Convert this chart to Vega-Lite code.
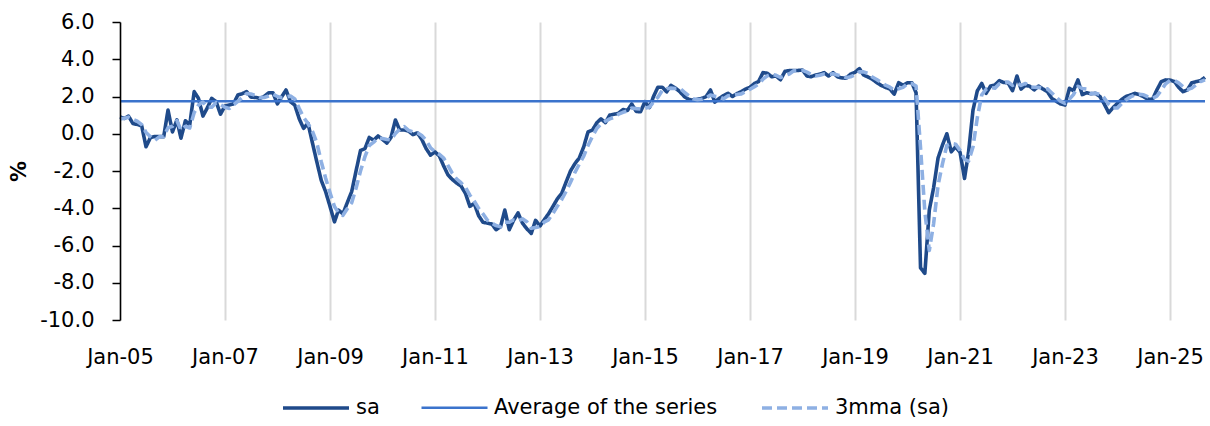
{
"$schema":"https://vega.github.io/schema/vega-lite/v6.json",
"width":1085,"height":298,
"autosize":{"type":"none"},
"padding":{"left":120,"top":22,"right":5,"bottom":106},
"background":"white",
"config":{"view":{"stroke":null},"font":"DejaVu Sans"},
"data":{"values":[
{"d":"2005-01","sa":0.9,"mma":0.8,"avg":1.75},
{"d":"2005-02","sa":0.82,"mma":0.83,"avg":1.75},
{"d":"2005-03","sa":0.95,"mma":0.89,"avg":1.75},
{"d":"2005-04","sa":0.55,"mma":0.77,"avg":1.75},
{"d":"2005-05","sa":0.5,"mma":0.67,"avg":1.75},
{"d":"2005-06","sa":0.42,"mma":0.49,"avg":1.75},
{"d":"2005-07","sa":-0.7,"mma":0.07,"avg":1.75},
{"d":"2005-08","sa":-0.2,"mma":-0.16,"avg":1.75},
{"d":"2005-09","sa":-0.15,"mma":-0.35,"avg":1.75},
{"d":"2005-10","sa":-0.15,"mma":-0.17,"avg":1.75},
{"d":"2005-11","sa":-0.16,"mma":-0.15,"avg":1.75},
{"d":"2005-12","sa":1.27,"mma":0.32,"avg":1.75},
{"d":"2006-01","sa":0.1,"mma":0.4,"avg":1.75},
{"d":"2006-02","sa":0.74,"mma":0.7,"avg":1.75},
{"d":"2006-03","sa":-0.24,"mma":0.2,"avg":1.75},
{"d":"2006-04","sa":0.7,"mma":0.4,"avg":1.75},
{"d":"2006-05","sa":0.47,"mma":0.31,"avg":1.75},
{"d":"2006-06","sa":2.26,"mma":1.14,"avg":1.75},
{"d":"2006-07","sa":1.9,"mma":1.54,"avg":1.75},
{"d":"2006-08","sa":0.95,"mma":1.7,"avg":1.75},
{"d":"2006-09","sa":1.4,"mma":1.42,"avg":1.75},
{"d":"2006-10","sa":1.9,"mma":1.42,"avg":1.75},
{"d":"2006-11","sa":1.72,"mma":1.67,"avg":1.75},
{"d":"2006-12","sa":1.05,"mma":1.56,"avg":1.75},
{"d":"2007-01","sa":1.49,"mma":1.42,"avg":1.75},
{"d":"2007-02","sa":1.55,"mma":1.36,"avg":1.75},
{"d":"2007-03","sa":1.6,"mma":1.55,"avg":1.75},
{"d":"2007-04","sa":2.08,"mma":1.74,"avg":1.75},
{"d":"2007-05","sa":2.15,"mma":1.94,"avg":1.75},
{"d":"2007-06","sa":2.26,"mma":2.16,"avg":1.75},
{"d":"2007-07","sa":1.97,"mma":2.13,"avg":1.75},
{"d":"2007-08","sa":1.95,"mma":2.06,"avg":1.75},
{"d":"2007-09","sa":1.9,"mma":1.94,"avg":1.75},
{"d":"2007-10","sa":2.0,"mma":1.95,"avg":1.75},
{"d":"2007-11","sa":2.2,"mma":2.03,"avg":1.75},
{"d":"2007-12","sa":2.2,"mma":2.13,"avg":1.75},
{"d":"2008-01","sa":1.6,"mma":2.0,"avg":1.75},
{"d":"2008-02","sa":2.0,"mma":1.93,"avg":1.75},
{"d":"2008-03","sa":2.35,"mma":1.98,"avg":1.75},
{"d":"2008-04","sa":1.72,"mma":2.02,"avg":1.75},
{"d":"2008-05","sa":1.54,"mma":1.87,"avg":1.75},
{"d":"2008-06","sa":0.8,"mma":1.35,"avg":1.75},
{"d":"2008-07","sa":0.29,"mma":0.88,"avg":1.75},
{"d":"2008-08","sa":0.56,"mma":0.55,"avg":1.75},
{"d":"2008-09","sa":-0.5,"mma":0.12,"avg":1.75},
{"d":"2008-10","sa":-1.5,"mma":-0.48,"avg":1.75},
{"d":"2008-11","sa":-2.5,"mma":-1.5,"avg":1.75},
{"d":"2008-12","sa":-3.1,"mma":-2.37,"avg":1.75},
{"d":"2009-01","sa":-3.9,"mma":-3.17,"avg":1.75},
{"d":"2009-02","sa":-4.73,"mma":-3.91,"avg":1.75},
{"d":"2009-03","sa":-4.1,"mma":-4.24,"avg":1.75},
{"d":"2009-04","sa":-4.3,"mma":-4.38,"avg":1.75},
{"d":"2009-05","sa":-3.7,"mma":-4.03,"avg":1.75},
{"d":"2009-06","sa":-3.1,"mma":-3.7,"avg":1.75},
{"d":"2009-07","sa":-2.0,"mma":-2.93,"avg":1.75},
{"d":"2009-08","sa":-0.9,"mma":-2.0,"avg":1.75},
{"d":"2009-09","sa":-0.8,"mma":-1.23,"avg":1.75},
{"d":"2009-10","sa":-0.2,"mma":-0.63,"avg":1.75},
{"d":"2009-11","sa":-0.35,"mma":-0.45,"avg":1.75},
{"d":"2009-12","sa":-0.12,"mma":-0.22,"avg":1.75},
{"d":"2010-01","sa":-0.3,"mma":-0.26,"avg":1.75},
{"d":"2010-02","sa":-0.5,"mma":-0.31,"avg":1.75},
{"d":"2010-03","sa":-0.2,"mma":-0.33,"avg":1.75},
{"d":"2010-04","sa":0.74,"mma":0.01,"avg":1.75},
{"d":"2010-05","sa":0.2,"mma":0.25,"avg":1.75},
{"d":"2010-06","sa":0.2,"mma":0.38,"avg":1.75},
{"d":"2010-07","sa":0.15,"mma":0.18,"avg":1.75},
{"d":"2010-08","sa":-0.05,"mma":0.1,"avg":1.75},
{"d":"2010-09","sa":0.05,"mma":0.05,"avg":1.75},
{"d":"2010-10","sa":-0.3,"mma":-0.1,"avg":1.75},
{"d":"2010-11","sa":-0.8,"mma":-0.35,"avg":1.75},
{"d":"2010-12","sa":-1.15,"mma":-0.75,"avg":1.75},
{"d":"2011-01","sa":-0.97,"mma":-0.97,"avg":1.75},
{"d":"2011-02","sa":-1.2,"mma":-1.11,"avg":1.75},
{"d":"2011-03","sa":-1.7,"mma":-1.29,"avg":1.75},
{"d":"2011-04","sa":-2.2,"mma":-1.7,"avg":1.75},
{"d":"2011-05","sa":-2.45,"mma":-2.12,"avg":1.75},
{"d":"2011-06","sa":-2.65,"mma":-2.43,"avg":1.75},
{"d":"2011-07","sa":-2.8,"mma":-2.63,"avg":1.75},
{"d":"2011-08","sa":-3.2,"mma":-2.88,"avg":1.75},
{"d":"2011-09","sa":-3.9,"mma":-3.3,"avg":1.75},
{"d":"2011-10","sa":-3.74,"mma":-3.61,"avg":1.75},
{"d":"2011-11","sa":-4.4,"mma":-4.01,"avg":1.75},
{"d":"2011-12","sa":-4.75,"mma":-4.3,"avg":1.75},
{"d":"2012-01","sa":-4.8,"mma":-4.65,"avg":1.75},
{"d":"2012-02","sa":-4.85,"mma":-4.8,"avg":1.75},
{"d":"2012-03","sa":-5.15,"mma":-4.93,"avg":1.75},
{"d":"2012-04","sa":-5.0,"mma":-5.0,"avg":1.75},
{"d":"2012-05","sa":-4.1,"mma":-4.75,"avg":1.75},
{"d":"2012-06","sa":-5.15,"mma":-4.75,"avg":1.75},
{"d":"2012-07","sa":-4.65,"mma":-4.63,"avg":1.75},
{"d":"2012-08","sa":-4.25,"mma":-4.68,"avg":1.75},
{"d":"2012-09","sa":-4.8,"mma":-4.57,"avg":1.75},
{"d":"2012-10","sa":-5.1,"mma":-4.72,"avg":1.75},
{"d":"2012-11","sa":-5.35,"mma":-5.08,"avg":1.75},
{"d":"2012-12","sa":-4.65,"mma":-5.03,"avg":1.75},
{"d":"2013-01","sa":-4.95,"mma":-4.98,"avg":1.75},
{"d":"2013-02","sa":-4.6,"mma":-4.73,"avg":1.75},
{"d":"2013-03","sa":-4.3,"mma":-4.62,"avg":1.75},
{"d":"2013-04","sa":-3.9,"mma":-4.27,"avg":1.75},
{"d":"2013-05","sa":-3.5,"mma":-3.9,"avg":1.75},
{"d":"2013-06","sa":-3.2,"mma":-3.53,"avg":1.75},
{"d":"2013-07","sa":-2.6,"mma":-3.1,"avg":1.75},
{"d":"2013-08","sa":-2.0,"mma":-2.6,"avg":1.75},
{"d":"2013-09","sa":-1.6,"mma":-2.07,"avg":1.75},
{"d":"2013-10","sa":-1.3,"mma":-1.63,"avg":1.75},
{"d":"2013-11","sa":-0.7,"mma":-1.2,"avg":1.75},
{"d":"2013-12","sa":0.1,"mma":-0.63,"avg":1.75},
{"d":"2014-01","sa":0.2,"mma":-0.13,"avg":1.75},
{"d":"2014-02","sa":0.6,"mma":0.3,"avg":1.75},
{"d":"2014-03","sa":0.8,"mma":0.53,"avg":1.75},
{"d":"2014-04","sa":0.6,"mma":0.67,"avg":1.75},
{"d":"2014-05","sa":1.0,"mma":0.8,"avg":1.75},
{"d":"2014-06","sa":1.05,"mma":0.88,"avg":1.75},
{"d":"2014-07","sa":1.1,"mma":1.05,"avg":1.75},
{"d":"2014-08","sa":1.3,"mma":1.15,"avg":1.75},
{"d":"2014-09","sa":1.25,"mma":1.22,"avg":1.75},
{"d":"2014-10","sa":1.6,"mma":1.38,"avg":1.75},
{"d":"2014-11","sa":1.2,"mma":1.35,"avg":1.75},
{"d":"2014-12","sa":1.18,"mma":1.33,"avg":1.75},
{"d":"2015-01","sa":1.72,"mma":1.37,"avg":1.75},
{"d":"2015-02","sa":1.4,"mma":1.43,"avg":1.75},
{"d":"2015-03","sa":1.99,"mma":1.7,"avg":1.75},
{"d":"2015-04","sa":2.5,"mma":1.96,"avg":1.75},
{"d":"2015-05","sa":2.5,"mma":2.33,"avg":1.75},
{"d":"2015-06","sa":2.25,"mma":2.42,"avg":1.75},
{"d":"2015-07","sa":2.6,"mma":2.45,"avg":1.75},
{"d":"2015-08","sa":2.45,"mma":2.43,"avg":1.75},
{"d":"2015-09","sa":2.26,"mma":2.44,"avg":1.75},
{"d":"2015-10","sa":2.0,"mma":2.24,"avg":1.75},
{"d":"2015-11","sa":1.85,"mma":2.04,"avg":1.75},
{"d":"2015-12","sa":1.8,"mma":1.88,"avg":1.75},
{"d":"2016-01","sa":1.85,"mma":1.83,"avg":1.75},
{"d":"2016-02","sa":1.9,"mma":1.85,"avg":1.75},
{"d":"2016-03","sa":1.99,"mma":1.91,"avg":1.75},
{"d":"2016-04","sa":2.35,"mma":2.08,"avg":1.75},
{"d":"2016-05","sa":1.7,"mma":2.01,"avg":1.75},
{"d":"2016-06","sa":1.9,"mma":1.98,"avg":1.75},
{"d":"2016-07","sa":2.05,"mma":1.88,"avg":1.75},
{"d":"2016-08","sa":2.17,"mma":2.04,"avg":1.75},
{"d":"2016-09","sa":2.0,"mma":2.07,"avg":1.75},
{"d":"2016-10","sa":2.15,"mma":2.11,"avg":1.75},
{"d":"2016-11","sa":2.26,"mma":2.14,"avg":1.75},
{"d":"2016-12","sa":2.4,"mma":2.27,"avg":1.75},
{"d":"2017-01","sa":2.5,"mma":2.39,"avg":1.75},
{"d":"2017-02","sa":2.7,"mma":2.53,"avg":1.75},
{"d":"2017-03","sa":2.8,"mma":2.67,"avg":1.75},
{"d":"2017-04","sa":3.28,"mma":2.93,"avg":1.75},
{"d":"2017-05","sa":3.25,"mma":3.11,"avg":1.75},
{"d":"2017-06","sa":3.06,"mma":3.2,"avg":1.75},
{"d":"2017-07","sa":3.1,"mma":3.14,"avg":1.75},
{"d":"2017-08","sa":2.9,"mma":3.02,"avg":1.75},
{"d":"2017-09","sa":3.35,"mma":3.12,"avg":1.75},
{"d":"2017-10","sa":3.39,"mma":3.21,"avg":1.75},
{"d":"2017-11","sa":3.39,"mma":3.38,"avg":1.75},
{"d":"2017-12","sa":3.4,"mma":3.39,"avg":1.75},
{"d":"2018-01","sa":3.42,"mma":3.4,"avg":1.75},
{"d":"2018-02","sa":3.1,"mma":3.31,"avg":1.75},
{"d":"2018-03","sa":3.06,"mma":3.19,"avg":1.75},
{"d":"2018-04","sa":3.15,"mma":3.1,"avg":1.75},
{"d":"2018-05","sa":3.2,"mma":3.14,"avg":1.75},
{"d":"2018-06","sa":3.28,"mma":3.21,"avg":1.75},
{"d":"2018-07","sa":3.1,"mma":3.19,"avg":1.75},
{"d":"2018-08","sa":3.28,"mma":3.22,"avg":1.75},
{"d":"2018-09","sa":3.06,"mma":3.15,"avg":1.75},
{"d":"2018-10","sa":3.0,"mma":3.11,"avg":1.75},
{"d":"2018-11","sa":2.98,"mma":3.01,"avg":1.75},
{"d":"2018-12","sa":3.2,"mma":3.06,"avg":1.75},
{"d":"2019-01","sa":3.3,"mma":3.16,"avg":1.75},
{"d":"2019-02","sa":3.5,"mma":3.33,"avg":1.75},
{"d":"2019-03","sa":3.16,"mma":3.32,"avg":1.75},
{"d":"2019-04","sa":3.05,"mma":3.24,"avg":1.75},
{"d":"2019-05","sa":2.93,"mma":3.05,"avg":1.75},
{"d":"2019-06","sa":2.75,"mma":2.91,"avg":1.75},
{"d":"2019-07","sa":2.6,"mma":2.76,"avg":1.75},
{"d":"2019-08","sa":2.49,"mma":2.61,"avg":1.75},
{"d":"2019-09","sa":2.4,"mma":2.5,"avg":1.75},
{"d":"2019-10","sa":2.13,"mma":2.34,"avg":1.75},
{"d":"2019-11","sa":2.74,"mma":2.42,"avg":1.75},
{"d":"2019-12","sa":2.6,"mma":2.49,"avg":1.75},
{"d":"2020-01","sa":2.74,"mma":2.69,"avg":1.75},
{"d":"2020-02","sa":2.74,"mma":2.69,"avg":1.75},
{"d":"2020-03","sa":2.2,"mma":2.56,"avg":1.75},
{"d":"2020-04","sa":-7.2,"mma":-0.75,"avg":1.75},
{"d":"2020-05","sa":-7.5,"mma":-4.17,"avg":1.75},
{"d":"2020-06","sa":-4.1,"mma":-6.27,"avg":1.75},
{"d":"2020-07","sa":-2.9,"mma":-4.83,"avg":1.75},
{"d":"2020-08","sa":-1.3,"mma":-2.77,"avg":1.75},
{"d":"2020-09","sa":-0.6,"mma":-1.6,"avg":1.75},
{"d":"2020-10","sa":0.0,"mma":-0.63,"avg":1.75},
{"d":"2020-11","sa":-0.97,"mma":-0.52,"avg":1.75},
{"d":"2020-12","sa":-0.7,"mma":-0.56,"avg":1.75},
{"d":"2021-01","sa":-1.0,"mma":-0.89,"avg":1.75},
{"d":"2021-02","sa":-2.4,"mma":-1.37,"avg":1.75},
{"d":"2021-03","sa":-1.0,"mma":-1.47,"avg":1.75},
{"d":"2021-04","sa":1.27,"mma":-0.71,"avg":1.75},
{"d":"2021-05","sa":2.3,"mma":0.86,"avg":1.75},
{"d":"2021-06","sa":2.7,"mma":2.09,"avg":1.75},
{"d":"2021-07","sa":2.17,"mma":2.39,"avg":1.75},
{"d":"2021-08","sa":2.56,"mma":2.48,"avg":1.75},
{"d":"2021-09","sa":2.62,"mma":2.45,"avg":1.75},
{"d":"2021-10","sa":2.85,"mma":2.68,"avg":1.75},
{"d":"2021-11","sa":2.75,"mma":2.74,"avg":1.75},
{"d":"2021-12","sa":2.74,"mma":2.78,"avg":1.75},
{"d":"2022-01","sa":2.31,"mma":2.6,"avg":1.75},
{"d":"2022-02","sa":3.1,"mma":2.72,"avg":1.75},
{"d":"2022-03","sa":2.4,"mma":2.6,"avg":1.75},
{"d":"2022-04","sa":2.6,"mma":2.7,"avg":1.75},
{"d":"2022-05","sa":2.55,"mma":2.52,"avg":1.75},
{"d":"2022-06","sa":2.35,"mma":2.5,"avg":1.75},
{"d":"2022-07","sa":2.56,"mma":2.49,"avg":1.75},
{"d":"2022-08","sa":2.4,"mma":2.44,"avg":1.75},
{"d":"2022-09","sa":2.26,"mma":2.41,"avg":1.75},
{"d":"2022-10","sa":1.9,"mma":2.19,"avg":1.75},
{"d":"2022-11","sa":1.75,"mma":1.97,"avg":1.75},
{"d":"2022-12","sa":1.6,"mma":1.75,"avg":1.75},
{"d":"2023-01","sa":1.54,"mma":1.63,"avg":1.75},
{"d":"2023-02","sa":2.44,"mma":1.86,"avg":1.75},
{"d":"2023-03","sa":2.31,"mma":2.1,"avg":1.75},
{"d":"2023-04","sa":2.89,"mma":2.55,"avg":1.75},
{"d":"2023-05","sa":2.1,"mma":2.43,"avg":1.75},
{"d":"2023-06","sa":2.2,"mma":2.4,"avg":1.75},
{"d":"2023-07","sa":2.15,"mma":2.15,"avg":1.75},
{"d":"2023-08","sa":2.17,"mma":2.17,"avg":1.75},
{"d":"2023-09","sa":2.0,"mma":2.11,"avg":1.75},
{"d":"2023-10","sa":1.6,"mma":1.92,"avg":1.75},
{"d":"2023-11","sa":1.13,"mma":1.58,"avg":1.75},
{"d":"2023-12","sa":1.4,"mma":1.38,"avg":1.75},
{"d":"2024-01","sa":1.63,"mma":1.39,"avg":1.75},
{"d":"2024-02","sa":1.85,"mma":1.63,"avg":1.75},
{"d":"2024-03","sa":2.0,"mma":1.83,"avg":1.75},
{"d":"2024-04","sa":2.08,"mma":1.98,"avg":1.75},
{"d":"2024-05","sa":2.17,"mma":2.08,"avg":1.75},
{"d":"2024-06","sa":2.1,"mma":2.12,"avg":1.75},
{"d":"2024-07","sa":1.99,"mma":2.09,"avg":1.75},
{"d":"2024-08","sa":1.85,"mma":1.98,"avg":1.75},
{"d":"2024-09","sa":1.85,"mma":1.9,"avg":1.75},
{"d":"2024-10","sa":2.35,"mma":2.02,"avg":1.75},
{"d":"2024-11","sa":2.8,"mma":2.33,"avg":1.75},
{"d":"2024-12","sa":2.89,"mma":2.68,"avg":1.75},
{"d":"2025-01","sa":2.88,"mma":2.86,"avg":1.75},
{"d":"2025-02","sa":2.8,"mma":2.86,"avg":1.75},
{"d":"2025-03","sa":2.5,"mma":2.73,"avg":1.75},
{"d":"2025-04","sa":2.26,"mma":2.52,"avg":1.75},
{"d":"2025-05","sa":2.35,"mma":2.37,"avg":1.75},
{"d":"2025-06","sa":2.74,"mma":2.45,"avg":1.75},
{"d":"2025-07","sa":2.8,"mma":2.63,"avg":1.75},
{"d":"2025-08","sa":2.85,"mma":2.8,"avg":1.75},
{"d":"2025-09","sa":3.03,"mma":2.89,"avg":1.75}
],"format":{"parse":{"d":"utc:'%Y-%m'"}}},
"transform":[{"fold":["sa","avg","mma"],"as":["series","value"]}],
"mark":{"type":"line","strokeJoin":"round"},
"encoding":{
"x":{"field":"d","type":"temporal",
"scale":{"type":"utc","domain":[{"year":2005,"month":1,"date":1,"utc":true},{"year":2025,"month":9,"date":1,"utc":true}]},
"axis":{"values":[{"year":2005,"month":1,"date":1,"utc":true},{"year":2007,"month":1,"date":1,"utc":true},{"year":2009,"month":1,"date":1,"utc":true},{"year":2011,"month":1,"date":1,"utc":true},{"year":2013,"month":1,"date":1,"utc":true},{"year":2015,"month":1,"date":1,"utc":true},{"year":2017,"month":1,"date":1,"utc":true},{"year":2019,"month":1,"date":1,"utc":true},{"year":2021,"month":1,"date":1,"utc":true},{"year":2023,"month":1,"date":1,"utc":true},{"year":2025,"month":1,"date":1,"utc":true}],
"labelExpr":"utcFormat(datum.value, '%b-%y')","grid":true,"gridColor":"#D9D9D9","gridWidth":2,"domain":false,"ticks":false,"tickSize":0,"labelPadding":26,"labelFont":"DejaVu Sans","labelFontSize":21,"labelColor":"#000000","labelFlush":false,"labelOverlap":false,"title":null}},
"y":{"field":"value","type":"quantitative",
"scale":{"domain":[-10,6],"nice":false,"zero":false},
"axis":{"values":[-10,-8,-6,-4,-2,0,2,4,6],"labelExpr":"(datum.value < 0 ? '-' : '') + format(abs(datum.value), '.1f')","grid":false,"domainColor":"#000000","domainWidth":1.5,"tickColor":"#000000","tickWidth":1.5,"tickSize":8,"labelPadding":18,"labelFont":"DejaVu Sans","labelFontSize":21,"labelColor":"#000000","title":"%","titleFont":"DejaVu Sans","titleFontSize":21,"titleFontWeight":"bold","titleColor":"#000000","titlePadding":10,"zindex":1}},
"color":{"field":"series","type":"nominal","scale":{"domain":["sa","avg","mma"],"range":["#1F4A8A","#3B73CC","#8EB0E3"]},
"legend":{"title":null,"orient":"none","legendX":161,"legendY":351,"direction":"horizontal","symbolType":"stroke","symbolSize":4356,"labelFont":"DejaVu Sans","labelFontSize":21,"labelColor":"#000000","labelOffset":5,"columnPadding":36,"padding":0,"labelLimit":400,"labelExpr":"datum.label == 'avg' ? 'Average of the series' : datum.label == 'mma' ? '3mma (sa)' : 'sa'"}},
"strokeDash":{"field":"series","type":"nominal","scale":{"domain":["sa","avg","mma"],"range":[[1,0],[1,0],[10,5]]},
"legend":{"title":null,"orient":"none","legendX":161,"legendY":351,"direction":"horizontal","symbolType":"stroke","symbolSize":4356,"labelFont":"DejaVu Sans","labelFontSize":21,"labelColor":"#000000","labelOffset":5,"columnPadding":36,"padding":0,"labelLimit":400,"labelExpr":"datum.label == 'avg' ? 'Average of the series' : datum.label == 'mma' ? '3mma (sa)' : 'sa'"}},
"strokeWidth":{"field":"series","type":"nominal","scale":{"type":"ordinal","domain":["sa","avg","mma"],"range":[3.6,2.5,3.6]},
"legend":{"title":null,"orient":"none","legendX":161,"legendY":351,"direction":"horizontal","symbolType":"stroke","symbolSize":4356,"labelFont":"DejaVu Sans","labelFontSize":21,"labelColor":"#000000","labelOffset":5,"columnPadding":36,"padding":0,"labelLimit":400,"labelExpr":"datum.label == 'avg' ? 'Average of the series' : datum.label == 'mma' ? '3mma (sa)' : 'sa'"}}
}
}
